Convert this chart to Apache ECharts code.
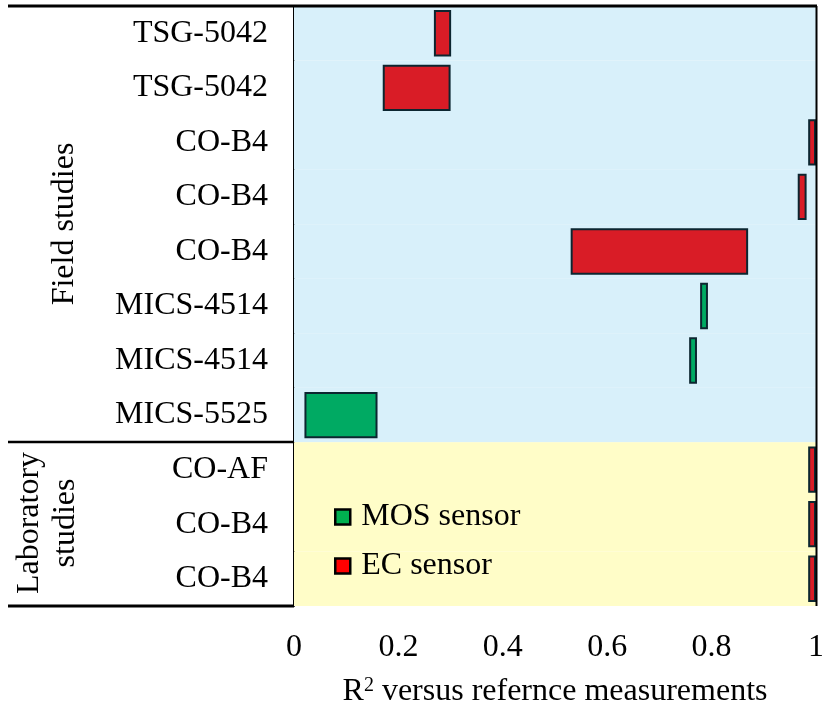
<!DOCTYPE html>
<html style="height: 100%">
<head>
  <meta charset="utf-8">
  <script src="https://cdn.jsdelivr.net/npm/echarts@6/dist/echarts.min.js"></script>
</head>
<body style="height: 100%; margin: 0; background: #fff;">
  <div id="container" style="width: 822px; height: 712px;"></div>
  <script type="text/javascript">
    // rows top to bottom
    var sensorNames = ['TSG-5042', 'TSG-5042', 'CO-B4', 'CO-B4', 'CO-B4', 'MICS-4514', 'MICS-4514', 'MICS-5525', 'CO-AF', 'CO-B4', 'CO-B4'];
    var sensorType = ['EC', 'EC', 'EC', 'EC', 'EC', 'MOS', 'MOS', 'MOS', 'EC', 'EC', 'EC'];
    var studyType = ['field', 'field', 'field', 'field', 'field', 'field', 'field', 'field', 'lab', 'lab', 'lab'];
    var r2Low = [0.268, 0.17, 0.985, 0.965, 0.53, 0.778, 0.757, 0.02, 0.985, 0.985, 0.985];
    var r2High = [0.301, 0.30, 1.0, 0.982, 0.87, 0.793, 0.772, 0.16, 1.0, 1.0, 1.0];
    var xTicks = [0, 0.2, 0.4, 0.6, 0.8, 1];

    var font = 'Liberation Serif';
    var rowIdx = sensorNames.map(function (n, i) { return String(i); });

    function pick(type, arr) {
      return arr.map(function (v, i) { return sensorType[i] === type ? v : '-'; });
    }
    var span = r2High.map(function (h, i) { return +(h - r2Low[i]).toFixed(4); });

    var barBorder = { borderColor: '#0c2630', borderWidth: 2 };

    var dom = document.getElementById('container');
    var myChart = echarts.init(dom, null, { renderer: 'canvas' });

    var option = {
      animation: false,
      textStyle: { fontFamily: font },
      grid: { left: 294, right: 6, top: 6, bottom: 106, outerBoundsMode: 'none', containLabel: false },
      legend: {
        orient: 'vertical',
        left: 329,
        top: 496,
        icon: 'rect',
        itemWidth: 15,
        itemHeight: 15,
        itemGap: 17,
        textStyle: { fontFamily: font, fontSize: 32, color: '#000', padding: [0, 0, 0, 6] },
        data: [
          { name: 'MOS sensor', itemStyle: { color: '#00b050', borderColor: '#000', borderWidth: 2.5 } },
          { name: 'EC sensor', itemStyle: { color: '#ff0000', borderColor: '#000', borderWidth: 2.5 } }
        ]
      },
      xAxis: {
        type: 'value',
        min: 0,
        max: 1,
        interval: 0.2,
        name: '{a|R}{s|2}{a| versus refernce measurements}',
        nameLocation: 'middle',
        nameGap: 70,
        nameTextStyle: {
          rich: {
            a: { fontFamily: font, fontSize: 32, color: '#000' },
            s: { fontFamily: font, fontSize: 20, color: '#000', verticalAlign: 'top', padding: [0, 0, 12, 0] }
          }
        },
        axisLine: { lineStyle: { color: '#000', width: 3 } },
        axisTick: { inside: true, length: 8, lineStyle: { color: '#000', width: 2 } },
        axisLabel: { fontFamily: font, fontSize: 32, color: '#000', margin: 26 },
        splitLine: { show: false }
      },
      yAxis: [
        {
          type: 'category',
          inverse: true,
          data: rowIdx,
          axisLine: { onZero: false, lineStyle: { color: '#000', width: 2 } },
          axisTick: { show: false },
          axisLabel: {
            fontFamily: font, fontSize: 32, color: '#000', margin: 26,
            formatter: function (v) { return sensorNames[+v]; }
          }
        },
        {
          type: 'category',
          inverse: true,
          data: rowIdx,
          show: false
        }
      ],
      series: [
        {
          name: 'bg',
          type: 'bar',
          yAxisIndex: 1,
          silent: true,
          z: 0,
          barWidth: '100%',
          data: studyType.map(function (s) {
            var c = s === 'field' ? '#d8f0fa' : '#fffdc8';
            return { value: 1, itemStyle: { color: c, borderColor: c, borderWidth: 2 } };
          })
        },
        {
          name: 'baseMos', type: 'bar', stack: 'mos', silent: true, barWidth: '85%', barGap: '-100%',
          itemStyle: { color: 'transparent' }, data: pick('MOS', r2Low)
        },
        {
          name: 'MOS sensor', type: 'bar', stack: 'mos', barWidth: '85%',
          itemStyle: Object.assign({ color: '#00aa63' }, barBorder), data: pick('MOS', span)
        },
        {
          name: 'baseEc', type: 'bar', stack: 'ec', silent: true, barWidth: '85%',
          itemStyle: { color: 'transparent' }, data: pick('EC', r2Low)
        },
        {
          name: 'EC sensor', type: 'bar', stack: 'ec', barWidth: '85%',
          itemStyle: Object.assign({ color: '#d91c26' }, barBorder), data: pick('EC', span)
        }
      ],
      graphic: [
        { type: 'line', silent: true, z: 10, shape: { x1: 8, y1: 6, x2: 817, y2: 6 }, style: { stroke: '#000', lineWidth: 3 } },
        { type: 'line', silent: true, z: 10, shape: { x1: 816.5, y1: 6, x2: 816.5, y2: 606 }, style: { stroke: '#000', lineWidth: 2 } },
        { type: 'line', silent: true, z: 10, shape: { x1: 8, y1: 606, x2: 294, y2: 606 }, style: { stroke: '#000', lineWidth: 3 } },
        { type: 'line', silent: true, z: 10, shape: { x1: 8, y1: 442, x2: 294, y2: 442 }, style: { stroke: '#000', lineWidth: 2.5 } },
        {
          type: 'text', x: 65, y: 224, rotation: Math.PI / 2,
          style: { text: 'Field studies', font: '32px "Liberation Serif"', fill: '#000', align: 'center', verticalAlign: 'middle' }
        },
        {
          type: 'text', x: 48, y: 523, rotation: Math.PI / 2,
          style: { text: 'Laboratory\nstudies', font: '32px "Liberation Serif"', fill: '#000', align: 'center', verticalAlign: 'middle', lineHeight: 36 }
        }
      ]
    };

    myChart.setOption(option);
    window.addEventListener('resize', myChart.resize);
  </script>
</body>
</html>
